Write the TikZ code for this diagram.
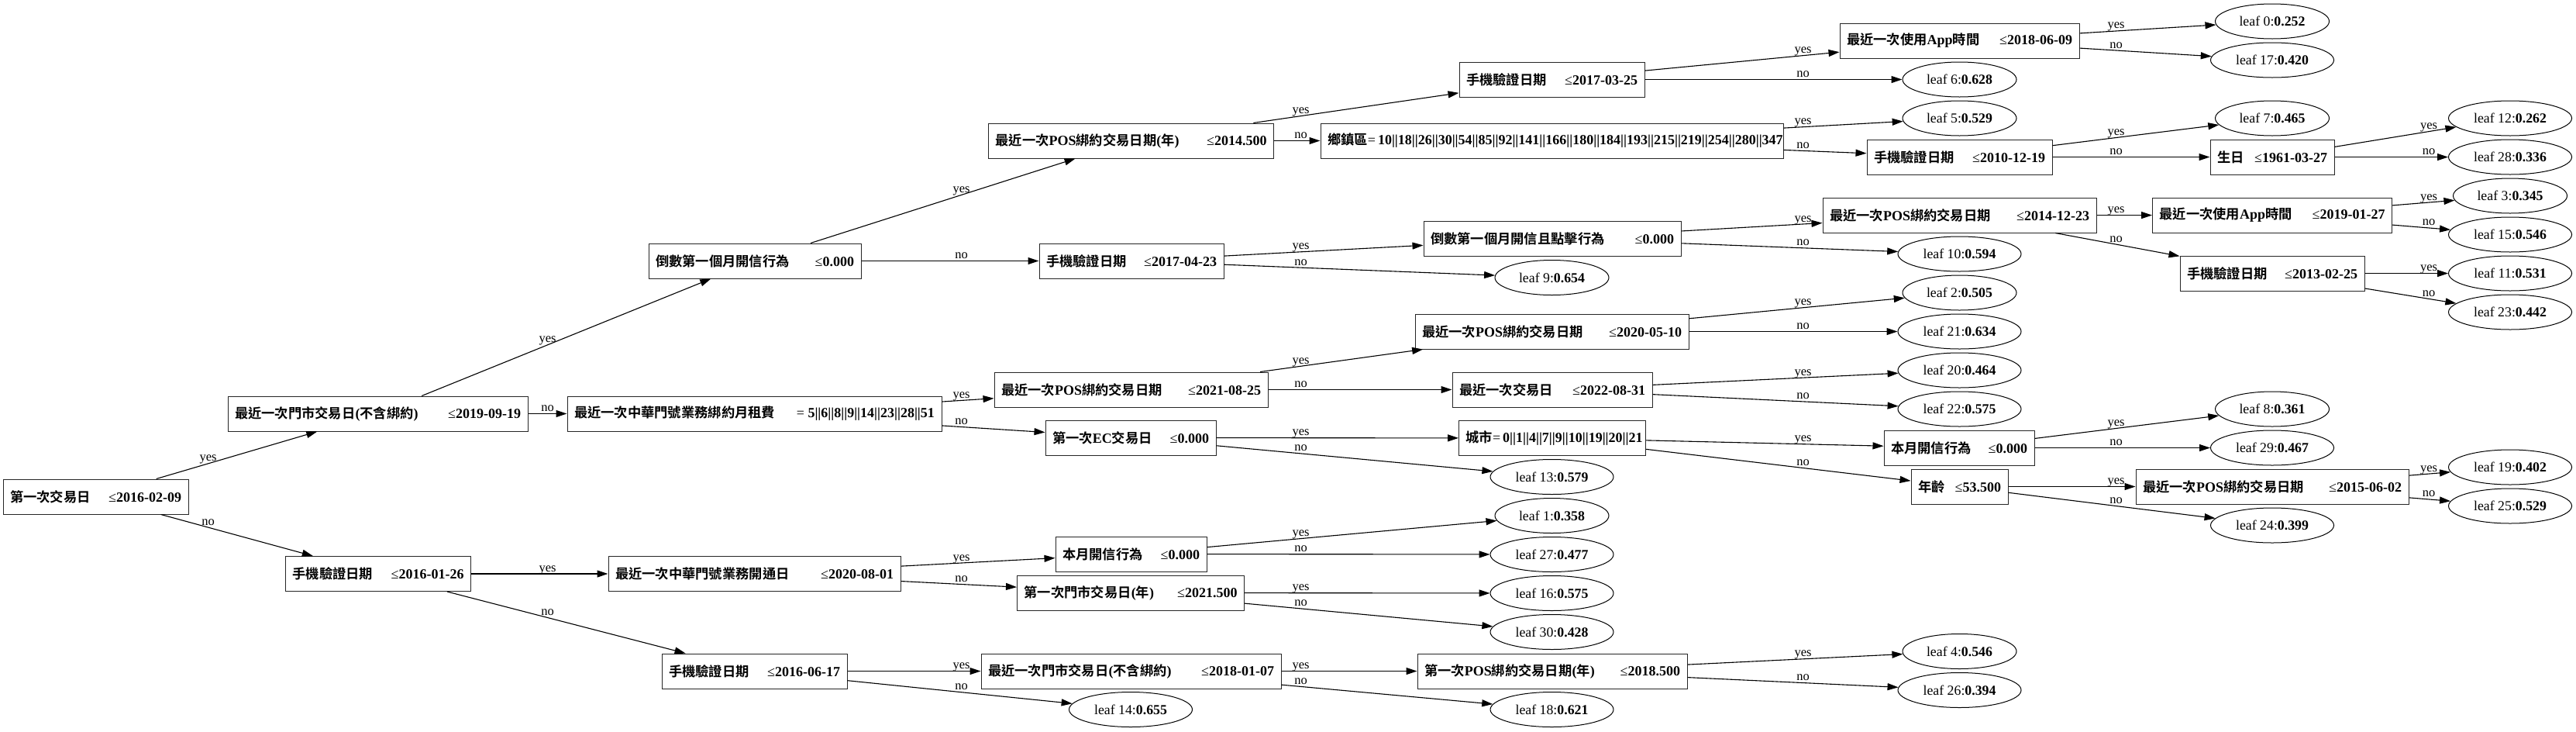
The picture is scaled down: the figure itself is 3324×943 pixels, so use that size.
\documentclass[tikz,border=0pt]{standalone}
\usepackage{fontspec}
\setmainfont{Liberation Serif}
\newfontfamily\cjkfont{Noto Sans CJK TC}[Scale=0.96,BoldFont={Noto Sans CJK TC Bold}]
\usetikzlibrary{arrows.meta,calc,shapes.geometric}
\newcommand\zh[1]{{\cjkfont\bfseries #1}}
\newcommand\dn[5]{\node[dec] (#1) at (#2) {\hbox to \dimexpr #3pt-18pt\relax{#4\hfill #5}};}
\newcommand\lf[5]{\node[#5] (#1) at (#2) {leaf #3:\textbf{#4}};}
\newcommand\eg[4]{\draw[edge] (#1) -- (#2);
  \path let \p1=(#1.center), \p2=(#2.center) in node[lab] at (#3pt,{\y1+(\y2-\y1)/(\x2-\x1)*(#3pt-\x1)}) {#4};}
\newcommand\leqv[1]{≤\textbf{#1}}
\tikzset{
  dec/.style={draw=black!85, line width=1pt, rectangle, minimum height=45pt, inner xsep=9pt, inner ysep=0pt, font=\fontsize{18}{21}\selectfont},
  leaf/.style={draw=black, line width=1pt, ellipse, minimum width=147pt, minimum height=45pt, inner sep=0pt, font=\fontsize{17.8}{21}\selectfont},
  leafw/.style={leaf, minimum width=159pt},
  edge/.style={-{Triangle[length=14pt,width=9pt]}, line width=1.1pt, black},
  lab/.style={font=\fontsize{16.5}{18}\selectfont, anchor=base, inner sep=0pt, yshift=3pt}
}
\begin{document}
\begin{tikzpicture}[x=1pt,y=-1pt]
\useasboundingbox (0,0) rectangle (3324,943);
% decision nodes
\dn{root}{123.5,640.5}{239}{\zh{第一次交易日}}{\leqv{2016-02-09}}
\dn{A}{487.5,533.5}{387}{\zh{最近一次門市交易日}\textbf{(}\zh{不含綁約}\textbf{)}}{\leqv{2019-09-19}}
\dn{H}{488,740}{239}{\zh{手機驗證日期}}{\leqv{2016-01-26}}
\dn{C}{974,336.5}{274}{\zh{倒數第一個月開信行為}}{\leqv{0.000}}
\dn{B}{973.5,533.5}{483}{\zh{最近一次中華門號業務綁約月租費}}{= \textbf{5||6||8||9||14||23||28||51}}
\dn{I}{973.5,740}{377}{\zh{最近一次中華門號業務開通日}}{\leqv{2020-08-01}}
\dn{J}{973.5,865.5}{239}{\zh{手機驗證日期}}{\leqv{2016-06-17}}
\dn{D}{1459.5,181.5}{368}{\zh{最近一次}\textbf{POS}\zh{綁約交易日期}\textbf{(}\zh{年}\textbf{)}}{\leqv{2014.500}}
\dn{E}{1460,336.5}{238}{\zh{手機驗證日期}}{\leqv{2017-04-23}}
\dn{F}{1459.5,502.5}{353}{\zh{最近一次}\textbf{POS}\zh{綁約交易日期}}{\leqv{2021-08-25}}
\dn{G}{1459,564.5}{220}{\zh{第一次}\textbf{EC}\zh{交易日}}{\leqv{0.000}}
\dn{K}{1459.5,714.5}{195}{\zh{本月開信行為}}{\leqv{0.000}}
\dn{L}{1459,764.5}{293}{\zh{第一次門市交易日}\textbf{(}\zh{年}\textbf{)}}{\leqv{2021.500}}
\dn{M}{1459.5,865.5}{387}{\zh{最近一次門市交易日}\textbf{(}\zh{不含綁約}\textbf{)}}{\leqv{2018-01-07}}
\dn{O}{2002.5,102.5}{239}{\zh{手機驗證日期}}{\leqv{2017-03-25}}
\dn{P}{2002.5,181.5}{597}{\zh{鄉鎮區}}{= \textbf{10||18||26||30||54||85||92||141||166||180||184||193||215||219||254||280||347}}
\dn{R}{2003,307.5}{332}{\zh{倒數第一個月開信且點擊行為}}{\leqv{0.000}}
\dn{T}{2002.5,427.5}{353}{\zh{最近一次}\textbf{POS}\zh{綁約交易日期}}{\leqv{2020-05-10}}
\dn{U}{2003,502.5}{258}{\zh{最近一次交易日}}{\leqv{2022-08-31}}
\dn{V}{2003,565}{241}{\zh{城市}}{= \textbf{0||1||4||7||9||10||19||20||21}}
\dn{Y}{2003,865.5}{348}{\zh{第一次}\textbf{POS}\zh{綁約交易日期}\textbf{(}\zh{年}\textbf{)}}{\leqv{2018.500}}
\dn{N}{2528.5,52.5}{309}{\zh{最近一次使用}\textbf{App}\zh{時間}}{\leqv{2018-06-09}}
\dn{Q}{2528.5,202.5}{239}{\zh{手機驗證日期}}{\leqv{2010-12-19}}
\dn{S}{2528.5,277.5}{353}{\zh{最近一次}\textbf{POS}\zh{綁約交易日期}}{\leqv{2014-12-23}}
\dn{W}{2528,577.5}{194}{\zh{本月開信行為}}{\leqv{0.000}}
\dn{X}{2528.5,627.5}{125}{\zh{年齡}}{\leqv{53.500}}
\dn{Z}{2932,202.5}{160}{\zh{生日}}{\leqv{1961-03-27}}
\dn{AA}{2932,277.5}{309}{\zh{最近一次使用}\textbf{App}\zh{時間}}{\leqv{2019-01-27}}
\dn{AB}{2932,352.5}{238}{\zh{手機驗證日期}}{\leqv{2013-02-25}}
\dn{AC}{2932,627.5}{352}{\zh{最近一次}\textbf{POS}\zh{綁約交易日期}}{\leqv{2015-06-02}}
% leaves
\lf{l14}{1459,915}{14}{0.655}{leafw}
\lf{l9}{2002.5,358}{9}{0.654}{leaf}
\lf{l13}{2002.5,615}{13}{0.579}{leafw}
\lf{l1}{2002.5,665}{1}{0.358}{leaf}
\lf{l27}{2002.5,715}{27}{0.477}{leafw}
\lf{l16}{2002.5,765}{16}{0.575}{leafw}
\lf{l30}{2002.5,815}{30}{0.428}{leafw}
\lf{l18}{2002.5,915}{18}{0.621}{leafw}
\lf{l6}{2528.5,102.5}{6}{0.628}{leaf}
\lf{l5}{2528.5,152.5}{5}{0.529}{leaf}
\lf{l10}{2528.5,327.5}{10}{0.594}{leafw}
\lf{l2}{2528.5,377.5}{2}{0.505}{leaf}
\lf{l21}{2528.5,427.5}{21}{0.634}{leafw}
\lf{l20}{2528.5,477.5}{20}{0.464}{leafw}
\lf{l22}{2528.5,527.5}{22}{0.575}{leafw}
\lf{l4}{2528.5,840}{4}{0.546}{leaf}
\lf{l26}{2528.5,890}{26}{0.394}{leafw}
\lf{l0}{2932,27.5}{0}{0.252}{leaf}
\lf{l17}{2932,77.5}{17}{0.420}{leafw}
\lf{l7}{2932,152.5}{7}{0.465}{leaf}
\lf{l8}{2932,527.5}{8}{0.361}{leaf}
\lf{l29}{2932,577.5}{29}{0.467}{leafw}
\lf{l24}{2932,677.5}{24}{0.399}{leafw}
\lf{l12}{3239,152.5}{12}{0.262}{leafw}
\lf{l28}{3239,202.5}{28}{0.336}{leafw}
\lf{l3}{3239,252.5}{3}{0.345}{leaf}
\lf{l15}{3239,302.5}{15}{0.546}{leafw}
\lf{l11}{3239,352.5}{11}{0.531}{leafw}
\lf{l23}{3239,402.5}{23}{0.442}{leafw}
\lf{l19}{3239,602.5}{19}{0.402}{leafw}
\lf{l25}{3239,652.5}{25}{0.529}{leafw}
% edges
\eg{root}{A}{268.5}{yes} \eg{root}{H}{268.5}{no}
\eg{A}{C}{706.5}{yes} \eg{A}{B}{706.5}{no}
\eg{H}{I}{706.5}{yes} \eg{H}{J}{706.5}{no}
\eg{C}{D}{1240.5}{yes} \eg{C}{E}{1240.5}{no}
\eg{B}{F}{1240.5}{yes} \eg{B}{G}{1240.5}{no}
\eg{I}{K}{1240.5}{yes} \eg{I}{L}{1240.5}{no}
\eg{J}{M}{1240.5}{yes} \eg{J}{l14}{1240.5}{no}
\eg{D}{O}{1678.5}{yes} \eg{D}{P}{1678.5}{no}
\eg{E}{R}{1678.5}{yes} \eg{E}{l9}{1678.5}{no}
\eg{F}{T}{1678.5}{yes} \eg{F}{U}{1678.5}{no}
\eg{G}{V}{1678.5}{yes} \eg{G}{l13}{1678.5}{no}
\eg{K}{l1}{1678.5}{yes} \eg{K}{l27}{1678.5}{no}
\eg{L}{l16}{1678.5}{yes} \eg{L}{l30}{1678.5}{no}
\eg{M}{Y}{1678.5}{yes} \eg{M}{l18}{1678.5}{no}
\eg{O}{N}{2326.5}{yes} \eg{O}{l6}{2326.5}{no}
\eg{P}{l5}{2326.5}{yes} \eg{P}{Q}{2326.5}{no}
\eg{R}{S}{2326.5}{yes} \eg{R}{l10}{2326.5}{no}
\eg{T}{l2}{2326.5}{yes} \eg{T}{l21}{2326.5}{no}
\eg{U}{l20}{2326.5}{yes} \eg{U}{l22}{2326.5}{no}
\eg{V}{W}{2326.5}{yes} \eg{V}{X}{2326.5}{no}
\eg{Y}{l4}{2326.5}{yes} \eg{Y}{l26}{2326.5}{no}
\eg{N}{l0}{2730.5}{yes} \eg{N}{l17}{2730.5}{no}
\eg{Q}{l7}{2730.5}{yes} \eg{Q}{Z}{2730.5}{no}
\eg{S}{AA}{2730.5}{yes} \eg{S}{AB}{2730.5}{no}
\eg{W}{l8}{2730.5}{yes} \eg{W}{l29}{2730.5}{no}
\eg{X}{AC}{2730.5}{yes} \eg{X}{l24}{2730.5}{no}
\eg{Z}{l12}{3134}{yes} \eg{Z}{l28}{3134}{no}
\eg{AA}{l3}{3134}{yes} \eg{AA}{l15}{3134}{no}
\eg{AB}{l11}{3134}{yes} \eg{AB}{l23}{3134}{no}
\eg{AC}{l19}{3134}{yes} \eg{AC}{l25}{3134}{no}
\end{tikzpicture}
\end{document}
